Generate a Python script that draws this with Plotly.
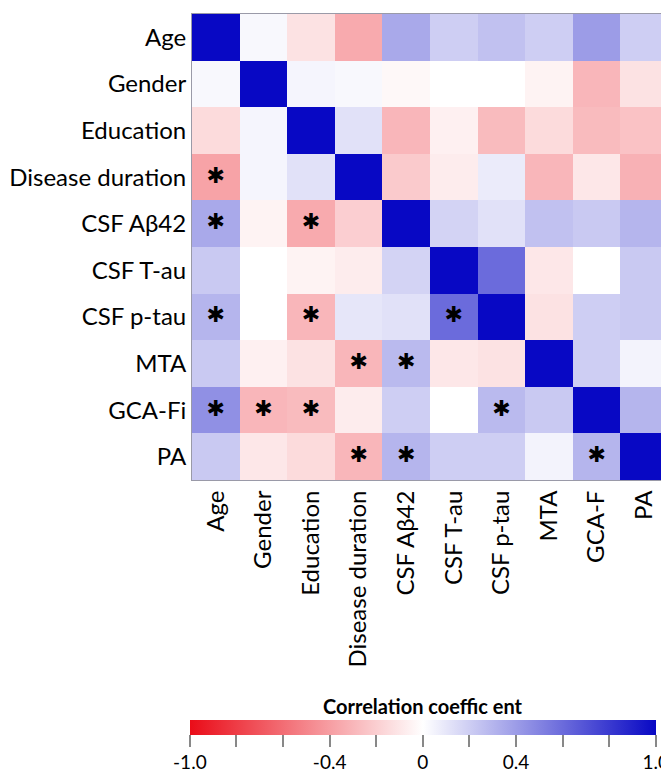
import plotly.graph_objects as go

x_labels = ["Age", "Gender", "Education", "Disease duration", "CSF Aβ42",
            "CSF T-au", "CSF p-tau", "MTA", "GCA-F", "PA"]
y_labels = ["Age", "Gender", "Education", "Disease duration", "CSF Aβ42",
            "CSF T-au", "CSF p-tau", "MTA", "GCA-Fi", "PA"]

corr = [
    [1.00, 0.03, -0.12, -0.35, 0.35, 0.20, 0.25, 0.20, 0.40, 0.20],
    [0.03, 1.00, 0.04, 0.03, -0.03, 0.00, 0.00, -0.05, -0.30, -0.12],
    [-0.15, 0.04, 1.00, 0.12, -0.30, -0.06, -0.28, -0.15, -0.28, -0.25],
    [-0.38, 0.04, 0.12, 1.00, -0.22, -0.08, 0.08, -0.30, -0.10, -0.32],
    [0.35, -0.05, -0.35, -0.20, 1.00, 0.18, 0.12, 0.25, 0.22, 0.30],
    [0.22, 0.00, -0.05, -0.08, 0.18, 1.00, 0.60, -0.10, 0.00, 0.22],
    [0.30, 0.00, -0.30, 0.10, 0.12, 0.60, 1.00, -0.12, 0.20, 0.22],
    [0.22, -0.06, -0.12, -0.30, 0.28, -0.10, -0.12, 1.00, 0.20, 0.05],
    [0.45, -0.30, -0.28, -0.08, 0.20, 0.00, 0.28, 0.22, 1.00, 0.30],
    [0.22, -0.10, -0.15, -0.30, 0.30, 0.20, 0.20, 0.05, 0.30, 1.00],
]

sig_rows = ["Disease duration", "CSF Aβ42", "CSF Aβ42", "CSF p-tau", "CSF p-tau",
            "CSF p-tau", "MTA", "MTA", "GCA-Fi", "GCA-Fi", "GCA-Fi", "GCA-Fi",
            "PA", "PA", "PA"]
sig_cols = ["Age", "Age", "Education", "Age", "Education",
            "CSF T-au", "Disease duration", "CSF Aβ42", "Age", "Gender", "Education", "CSF p-tau",
            "Disease duration", "CSF Aβ42", "GCA-F"]

cbar_tickvals = [-1.0, -0.8, -0.6, -0.4, -0.2, 0.0, 0.2, 0.4, 0.6, 0.8, 1.0]
cbar_ticktext = ["-1.0", "", "", "-0.4", "", "0", "", "0.4", "", "", "1.0"]
cbar_title = "Correlation coeffic ent"

colorscale = [[0.0, "rgb(234,12,24)"], [0.5, "rgb(255,255,255)"], [1.0, "rgb(8,8,196)"]]

fig = go.Figure()
fig.add_trace(go.Heatmap(
    z=corr, x=x_labels, y=y_labels, zmin=-1, zmax=1,
    colorscale=colorscale, hoverongaps=False,
    colorbar=dict(
        orientation="h", thickness=15, thicknessmode="pixels",
        len=0.979, lenmode="fraction", x=0.485, xanchor="center",
        y=-0.514, yanchor="top", outlinewidth=0, xpad=0, ypad=0,
        ticks="outside", ticklen=12, tickwidth=2, tickcolor="#888888",
        tickvals=cbar_tickvals, ticktext=cbar_ticktext,
        tickfont=dict(size=19, color="black", family="Lato"),
    ),
))
fig.add_trace(go.Scatter(
    x=sig_cols, y=sig_rows, mode="text", text=["✱"] * len(sig_rows),
    textfont=dict(size=22, color="black", family="DejaVu Sans"),
    textposition="middle center", hoverinfo="skip", showlegend=False,
))

fig.add_annotation(text="<b>" + cbar_title + "</b>", xref="paper", yref="paper",
                   x=0.485, y=-0.484, xanchor="center", yanchor="middle",
                   showarrow=False, font=dict(size=20, color="black", family="Lato"))

fig.update_layout(
    width=669, height=772,
    margin=dict(l=184, r=9, t=6, b=293),
    paper_bgcolor="white", plot_bgcolor="white",
    font=dict(family="Lato", size=24, color="black"),
    showlegend=False,
)
fig.update_xaxes(type="category", categoryorder="array", categoryarray=x_labels,
                 tickangle=-90, showgrid=False, zeroline=False,
                 showline=True, mirror=True, linecolor="#9a9aa8", linewidth=1,
                 ticks="", tickfont=dict(size=24), automargin=False)
fig.update_yaxes(type="category", categoryorder="array", categoryarray=y_labels,
                 autorange="reversed", showgrid=False, zeroline=False,
                 showline=True, mirror=True, linecolor="#9a9aa8", linewidth=1,
                 ticks="", tickfont=dict(size=24), automargin=False)

fig.write_html("out.html")
